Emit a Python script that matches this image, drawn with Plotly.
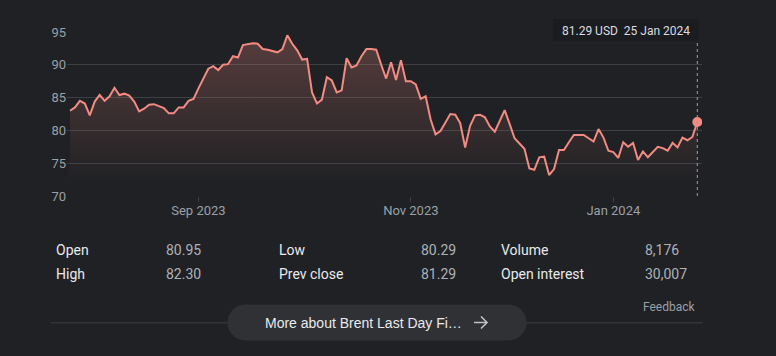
import pandas as pd
import plotly.graph_objects as go

# ---- data -------------------------------------------------------------
prices = [
    83.0, 83.5, 84.5, 84.1, 82.3, 84.4, 85.4, 84.5, 85.2, 86.5,
    85.4, 85.6, 85.3, 84.4, 82.9, 83.3, 83.9, 84.0, 83.7, 83.4,
    82.6, 82.6, 83.5, 83.5, 84.5, 84.8, 86.4, 87.9, 89.4, 89.8,
    89.2, 90.0, 90.1, 91.3, 91.1, 93.0, 93.1, 93.3, 93.2, 92.4,
    92.3, 92.1, 91.9, 92.4, 94.5, 93.2, 92.2, 90.8, 90.9, 85.8,
    84.1, 84.7, 88.1, 87.6, 85.8, 86.1, 91.0, 89.6, 89.9, 91.3,
    92.4, 92.4, 92.3, 90.0, 87.9, 90.4, 87.7, 90.7, 87.5, 87.5,
    87.0, 84.8, 85.2, 81.7, 79.4, 79.9, 81.2, 82.5, 82.4, 81.1,
    77.4, 80.7, 82.3, 82.4, 82.0, 80.6, 79.8, 81.5, 83.1, 81.0,
    78.8, 78.0, 77.2, 74.2, 74.0, 75.9, 76.0, 73.2, 74.1, 77.0,
    77.0, 78.2, 79.3, 79.3, 79.3, 78.8, 78.3, 80.2, 78.9, 76.9,
    76.7, 75.8, 78.2, 77.5, 78.1, 75.5, 76.8, 75.9, 76.7, 77.5,
    77.3, 76.9, 78.1, 77.4, 78.9, 78.5, 79.0, 81.29,
]
start_date = "2023-07-27"
end_date = "2024-01-25"
holidays = ["2023-12-25", "2023-12-26", "2024-01-01"]

x_tick_vals = ["2023-09-01", "2023-11-01", "2024-01-02"]
x_tick_text = ["Sep 2023", "Nov 2023", "Jan 2024"]
y_tick_vals = [70, 75, 80, 85, 90, 95]

currency = "USD"
stat_labels_col1 = ["Open", "High"]
stat_values_col1 = ["80.95", "82.30"]
stat_labels_col2 = ["Low", "Prev close"]
stat_values_col2 = ["80.29", "81.29"]
stat_labels_col3 = ["Volume", "Open interest"]
stat_values_col3 = ["8,176", "30,007"]
button_text = "More about Brent Last Day Fi\u2026"
feedback_text = "Feedback"

# ---- dates (trading days) ---------------------------------------------
dates = [d for d in pd.bdate_range(start_date, end_date)
         if d.strftime("%Y-%m-%d") not in holidays]
assert len(dates) == len(prices), (len(dates), len(prices))

# ---- style ---------------------------------------------------------------
BG = "#202124"
GRID = "#3c4043"
LINE = "#f28b82"
AXIS_TXT = "#9aa0a6"
LABEL_TXT = "#e8eaed"
VALUE_TXT = "#aeb2b7"
FONT = "Roboto, Arial, sans-serif"
BTN_FONT = "Arial, 'Liberation Sans', sans-serif"

W, H = 776, 356
PL, PR = 67, 702          # plot area x pixels
PT, PB = 32, 195.7        # plot area y pixels


def fx(px):
    return (px - PL) / (PR - PL)


def fy(py):
    return (PB - py) / (PB - PT)


def P(px, py):
    return f"{fx(px):.5f},{fy(py):.5f}"


fig = go.Figure()

fig.add_trace(go.Scatter(
    x=dates, y=prices, mode="lines",
    line=dict(color=LINE, width=2),
    fill="tozeroy",
    fillgradient=dict(
        type="vertical", start=72, stop=94,
        colorscale=[[0, "rgba(242,139,130,0)"], [1, "rgba(242,139,130,0.26)"]],
    ),
    hoverinfo="skip",
))

fig.add_trace(go.Scatter(
    x=[dates[-1]], y=[prices[-1]], mode="markers",
    marker=dict(color=LINE, size=10),
    hoverinfo="skip",
))

shapes = []
annotations = []

# dotted crosshair at latest point
shapes.append(dict(type="line", xref="x", yref="paper",
                   x0=dates[-1], x1=dates[-1], y0=0, y1=fy(40),
                   line=dict(color=AXIS_TXT, width=1, dash="dot")))

# tooltip box
shapes.append(dict(type="rect", xref="paper", yref="paper",
                   x0=fx(553), x1=fx(699), y0=fy(40.5), y1=fy(19),
                   fillcolor="#1b1c1f", line=dict(width=0), layer="above"))
tip = f"{prices[-1]:.2f} {currency}\u00a0\u00a0{dates[-1].day} {dates[-1]:%b %Y}"
annotations.append(dict(xref="paper", yref="paper", x=fx(625.5), y=fy(31.5),
                        text=tip, showarrow=False, xanchor="center", yanchor="middle",
                        font=dict(family=FONT, size=12, color="#dadce0")))

# stats table
cols = [
    (stat_labels_col1, stat_values_col1, 54, 163.5),
    (stat_labels_col2, stat_values_col2, 276.5, 418.5),
    (stat_labels_col3, stat_values_col3, 499, 643),
]
row_y = [249.3, 273.3]
for labels, vals, lx, vx in cols:
    for lab, val, ry in zip(labels, vals, row_y):
        annotations.append(dict(xref="paper", yref="paper", x=fx(lx), y=fy(ry),
                                text=lab, showarrow=False, xanchor="left", yanchor="middle",
                                font=dict(family=FONT, size=14, color=LABEL_TXT)))
        annotations.append(dict(xref="paper", yref="paper", x=fx(vx), y=fy(ry),
                                text=val, showarrow=False, xanchor="left", yanchor="middle",
                                font=dict(family=FONT, size=14, color=VALUE_TXT)))

annotations.append(dict(xref="paper", yref="paper", x=fx(698), y=fy(306.5),
                        text=feedback_text, showarrow=False, xanchor="right", yanchor="middle",
                        font=dict(family=FONT, size=12, color=AXIS_TXT)))

# divider line
shapes.append(dict(type="line", xref="paper", yref="paper",
                   x0=fx(51), x1=fx(702.5), y0=fy(322.3), y1=fy(322.3),
                   line=dict(color=GRID, width=1)))

# pill button
bx0, bx1, by0, by1 = 227.5, 526.5, 304, 340
r = (by1 - by0) / 2
k = 0.5523 * r
path = (
    f"M {P(bx0 + r, by0)} L {P(bx1 - r, by0)} "
    f"C {P(bx1 - r + k, by0)} {P(bx1, by0 + r - k)} {P(bx1, by0 + r)} "
    f"C {P(bx1, by0 + r + k)} {P(bx1 - r + k, by1)} {P(bx1 - r, by1)} "
    f"L {P(bx0 + r, by1)} "
    f"C {P(bx0 + r - k, by1)} {P(bx0, by0 + r + k)} {P(bx0, by0 + r)} "
    f"C {P(bx0, by0 + r - k)} {P(bx0 + r - k, by0)} {P(bx0 + r, by0)} Z"
)
shapes.append(dict(type="path", xref="paper", yref="paper", path=path,
                   fillcolor="#303134", line=dict(width=0)))
annotations.append(dict(xref="paper", yref="paper", x=fx(262.5), y=fy(322),
                        text=button_text, showarrow=False, xanchor="left", yanchor="middle",
                        font=dict(family=BTN_FONT, size=14, color=LABEL_TXT)))
# arrow icon
arrow = (f"M {P(474, 322)} L {P(487, 322)} "
         f"M {P(481, 316)} L {P(487, 322)} L {P(481, 328)}")
shapes.append(dict(type="path", xref="paper", yref="paper", path=arrow,
                   line=dict(color="#bdc1c6", width=1.6)))

fig.update_layout(
    width=W, height=H,
    margin=dict(l=PL, r=W - PR, t=PT, b=H - PB, pad=0),
    paper_bgcolor=BG, plot_bgcolor=BG,
    showlegend=False,
    font=dict(family=FONT, color=AXIS_TXT, size=13),
    shapes=shapes, annotations=annotations,
    hovermode=False,
)
fig.update_xaxes(
    type="date",
    range=["2023-07-26 09:20", "2024-01-25 22:50"],
    rangebreaks=[dict(bounds=["sat", "mon"]), dict(values=holidays)],
    tickvals=x_tick_vals, ticktext=x_tick_text,
    ticks="outside", ticklen=5, tickcolor=GRID, tickwidth=1,
    ticklabelstandoff=-3,
    showgrid=False, zeroline=False, showline=False,
    tickfont=dict(size=13, color=AXIS_TXT),
    fixedrange=True,
)
fig.update_yaxes(
    range=[70, 95], tickvals=y_tick_vals,
    showgrid=True, gridcolor=GRID, gridwidth=1,
    zeroline=False, showline=False, ticks="",
    tickfont=dict(size=13, color=AXIS_TXT),
    fixedrange=True,
)

fig.write_html(
    "out.html",
    config={"displayModeBar": False},
    post_script="document.body.style.margin='0';document.body.style.background='#202124';",
)
